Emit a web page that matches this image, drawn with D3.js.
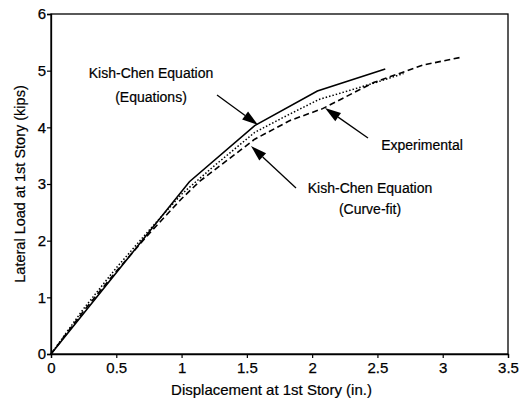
<!DOCTYPE html>
<html><head><meta charset="utf-8">
<script src="https://cdn.jsdelivr.net/npm/d3@7"></script>
<style>body{margin:0;background:#fff}svg{display:block}text{font-family:"Liberation Sans",Arial,sans-serif;fill:#000}</style>
</head><body>
<svg id="c" width="524" height="398"></svg>
<script>
// Data
const xTicks = [0, 0.5, 1, 1.5, 2, 2.5, 3, 3.5];
const xTickLabels = ["0", "0.5", "1", "1.5", "2", "2.5", "3", "3.5"];
const yTicks = [0, 1, 2, 3, 4, 5, 6];
const yTickLabels = ["0", "1", "2", "3", "4", "5", "6"];

const equationsX = [0, 1.06, 1.56, 2.04, 2.56];
const equationsY = [0, 3.04, 4.03, 4.64, 5.03];

const curveFitX = [0, 0.25, 0.5, 0.75, 1.0, 1.25, 1.56, 1.8, 2.05, 2.3, 2.5, 2.7];
const curveFitY = [0, 0.80, 1.52, 2.18, 2.82, 3.32, 3.91, 4.20, 4.49, 4.66, 4.80, 4.95];

const experimentalX = [0, 0.25, 0.5, 0.75, 1.0, 1.14, 1.56, 1.83, 2.08, 2.47, 2.85, 3.15];
const experimentalY = [0, 0.76, 1.46, 2.12, 2.74, 3.05, 3.79, 4.12, 4.33, 4.79, 5.10, 5.24];

const annotations = [
  {lines: ["Kish-Chen Equation", "(Equations)"], tx: 151, ty: [73, 97], tail: [217, 95], tip: [258, 125]},
  {lines: ["Kish-Chen Equation", "(Curve-fit)"], tx: 370, ty: [188, 209], tail: [296, 188], tip: [251, 146]},
  {lines: ["Experimental"], tx: 422, ty: [145], tail: [368, 138], tip: [325, 108]}
];

const svg = d3.select("#c");
const m = {l: 51, r: 16, t: 14, b: 44};
const W = 524, H = 398;
const x = d3.scaleLinear().domain([0, 3.5]).range([m.l, W - m.r]);
const y = d3.scaleLinear().domain([0, 6]).range([H - m.b, m.t]);

// frame
svg.append("rect").attr("x", x(0)).attr("y", y(6)).attr("width", x(3.5) - x(0)).attr("height", y(0) - y(6))
  .attr("fill", "none").attr("stroke", "#000").attr("stroke-width", 1.3);

const xAxis = svg.append("g").attr("transform", `translate(0,${y(0)})`)
  .call(d3.axisBottom(x).tickValues(xTicks).tickFormat((d, i) => xTickLabels[i]).tickSizeOuter(0).tickSize(4).tickPadding(4));
const yAxis = svg.append("g").attr("transform", `translate(${x(0)},0)`)
  .call(d3.axisLeft(y).tickValues(yTicks).tickFormat((d, i) => yTickLabels[i]).tickSizeOuter(0).tickSize(4).tickPadding(1));
[xAxis, yAxis].forEach(g => {
  g.select(".domain").attr("stroke", "#000").attr("stroke-width", 1.3);
  g.selectAll(".tick line").attr("stroke", "#000").attr("stroke-width", 1.2);
  g.selectAll(".tick text").attr("font-size", 15).attr("font-family", "Liberation Sans, Arial, sans-serif")
    .attr("fill", "#000").attr("stroke", "#000").attr("stroke-width", 0.25);
});

const line = d3.line().x(d => x(d[0])).y(d => y(d[1]));
const zip = (a, b) => a.map((v, i) => [v, b[i]]);

svg.append("path").datum(zip(experimentalX, experimentalY)).attr("d", line)
  .attr("fill", "none").attr("stroke", "#000").attr("stroke-width", 1.6).attr("stroke-dasharray", "6,3.5");
svg.append("path").datum(zip(curveFitX, curveFitY)).attr("d", line)
  .attr("fill", "none").attr("stroke", "#000").attr("stroke-width", 1.5).attr("stroke-dasharray", "1.5,2");
svg.append("path").datum(zip(equationsX, equationsY)).attr("d", line)
  .attr("fill", "none").attr("stroke", "#000").attr("stroke-width", 1.6);

// annotations
annotations.forEach(a => {
  a.lines.forEach((t, i) => {
    svg.append("text").attr("x", a.tx).attr("y", a.ty[i]).attr("text-anchor", "middle")
      .attr("dominant-baseline", "central").attr("font-size", 14).attr("stroke", "#000").attr("stroke-width", 0.2).text(t);
  });
  const [x1, y1] = a.tail, [x2, y2] = a.tip;
  const ang = Math.atan2(y2 - y1, x2 - x1);
  const L = 16, w = 5;
  const bx = x2 - L * Math.cos(ang), by = y2 - L * Math.sin(ang);
  svg.append("line").attr("x1", x1).attr("y1", y1).attr("x2", bx).attr("y2", by)
    .attr("stroke", "#000").attr("stroke-width", 1.3);
  const px = -Math.sin(ang) * w, py = Math.cos(ang) * w;
  svg.append("path").attr("d", `M${x2},${y2}L${bx + px},${by + py}L${bx - px},${by - py}Z`).attr("fill", "#000");
});

// axis titles
svg.append("text").attr("x", (x(0) + x(3.5)) / 2 - 8).attr("y", 389).attr("text-anchor", "middle")
  .attr("dominant-baseline", "central").attr("font-size", 15).attr("stroke", "#000").attr("stroke-width", 0.2)
  .text("Displacement at 1st Story (in.)");
svg.append("text").attr("transform", `translate(20,${(y(0) + y(6)) / 2}) rotate(-90)`).attr("text-anchor", "middle")
  .attr("dominant-baseline", "central").attr("font-size", 14.5).attr("stroke", "#000").attr("stroke-width", 0.2)
  .text("Lateral Load at 1st Story (kips)");
</script>
</body></html>
